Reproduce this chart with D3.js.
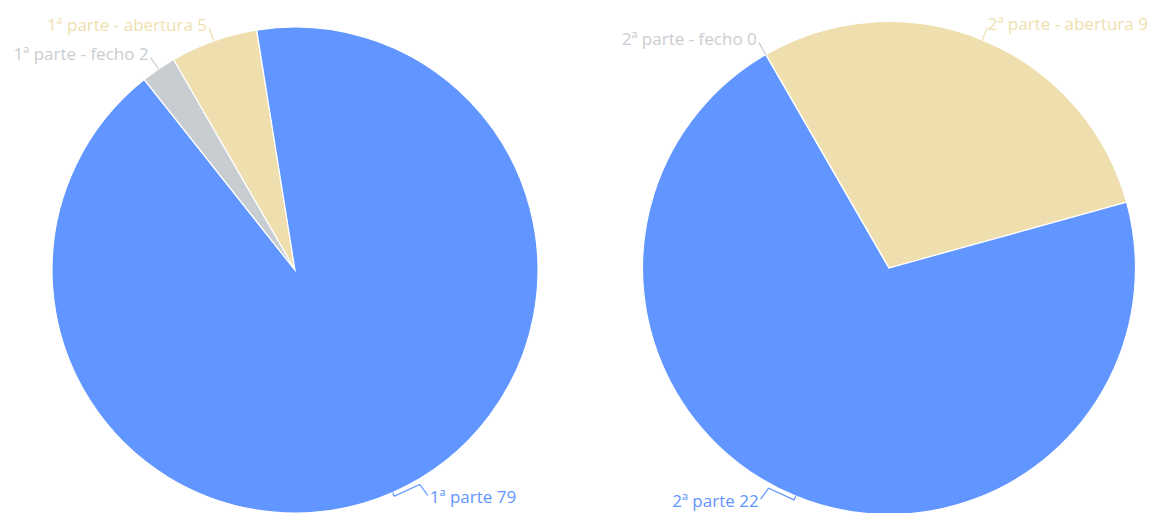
<!DOCTYPE html>
<html>
<head>
<meta charset="utf-8">
<script src="https://cdn.jsdelivr.net/npm/d3@7"></script>
<style>
  html, body { margin: 0; padding: 0; background: #fff; }
  svg { display: block; }
  .lbl { font-family: "Open Sans", sans-serif; font-size: 17px; }
</style>
</head>
<body>
<div id="chart"></div>
<script>
// data, clockwise order as drawn
const categories = ["abertura", "parte", "fecho"];
const pie1Labels = ["1ª parte - abertura", "1ª parte", "1ª parte - fecho"];
const pie1Values = [5, 79, 2];
const pie2Labels = ["2ª parte - abertura", "2ª parte", "2ª parte - fecho"];
const pie2Values = [9, 22, 0];

const width = 1158;
const height = 513;

const color = d3.scaleOrdinal()
    .domain(categories)
    .range(["#efdfae", "#6195ff", "#c8cdd2"]);

const svg = d3.select("#chart").append("svg")
    .attr("width", width)
    .attr("height", height);

const pie = d3.pie()
    .sort(null)
    .value(d => d.value)
    .startAngle(-Math.PI / 6)
    .endAngle(-Math.PI / 6 + 2 * Math.PI);

function drawPie(labels, values, cx, cy, r) {
    const rows = categories.map((c, i) => ({cat: c, label: labels[i], value: values[i]}));
    const arcs = pie(rows);
    const arc = d3.arc().innerRadius(0).outerRadius(r);

    const g = svg.append("g").attr("transform", `translate(${cx},${cy})`);

    g.selectAll("path.slice")
        .data(arcs)
        .join("path")
        .attr("class", "slice")
        .attr("d", arc)
        .attr("fill", d => color(d.data.cat))
        .attr("stroke", "#fff")
        .attr("stroke-width", 1.2);

    // labels with leader lines
    arcs.forEach(d => {
        const a = (d.startAngle + d.endAngle) / 2;
        const ux = Math.sin(a), uy = -Math.cos(a);
        const p0 = [ux * r, uy * r];
        const c = color(d.data.cat);
        const txt = `${d.data.label} ${d.data.value}`;
        let pts, tx, ty, anchor;
        if (uy < 0) {
            const p1 = [ux * (r + 14), uy * (r + 14)];
            pts = [p0, p1];
            anchor = ux < 0 ? "end" : "start";
            tx = p1[0] + (ux < 0 ? -2 : 0);
            ty = p1[1] + 3;
        } else {
            const s = ux < 0 ? -1 : 1;
            const p1 = [ux * (r + 4), uy * (r + 4)];
            const p3 = [p0[0] + s * 35, p0[1] + 3];
            const p2 = [p3[0] - s * 8, p3[1] - 11];
            pts = [p0, p1, p2, p3];
            anchor = s < 0 ? "end" : "start";
            tx = p3[0] + s * 2;
            ty = p3[1] + 8;
        }
        g.append("path")
            .attr("d", d3.line()(pts))
            .attr("fill", "none")
            .attr("stroke", c)
            .attr("stroke-width", 1.2);
        g.append("text")
            .attr("class", "lbl")
            .attr("x", tx)
            .attr("y", ty)
            .attr("text-anchor", anchor)
            .attr("fill", c)
            .text(txt);
    });
}

drawPie(pie1Labels, pie1Values, 295, 270, 243);
drawPie(pie2Labels, pie2Values, 889, 268, 246.5);
</script>
</body>
</html>
